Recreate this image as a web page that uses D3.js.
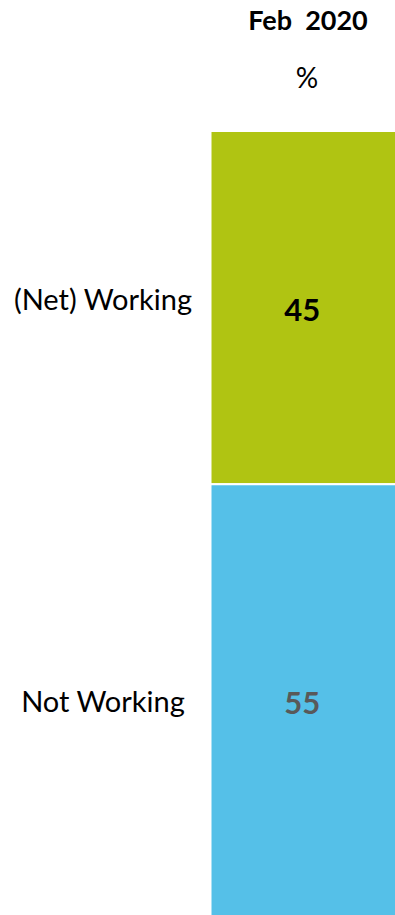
<!DOCTYPE html>
<html>
<head>
<meta charset="utf-8">
<script src="https://cdn.jsdelivr.net/npm/d3@7"></script>
<style>
  body { margin: 0; background: #fff; }
  text { font-family: Lato, "Open Sans", sans-serif; }
</style>
</head>
<body>
<svg id="chart" width="395" height="915"></svg>
<script>
var categories = ["(Net) Working", "Not Working"];
var values = [45, 55];
var colors = ["#b0c412", "#55c0e8"];
var valueColors = ["#000000", "#595959"];
var columnLabel = "Feb  2020";
var unitLabel = "%";

var width = 395, height = 915;
var svg = d3.select("#chart");

var x = d3.scaleBand().domain([columnLabel]).range([210.5, 396]).padding(0);
var y = d3.scaleLinear().domain([0, 100]).range([131, 916]);

// stack the segments
var stack = [];
var acc = 0;
values.forEach(function(v, i) {
	stack.push({ name: categories[i], value: v, y0: acc, y1: acc + v, color: colors[i], tcolor: valueColors[i] });
	acc += v;
});

var seg = svg.selectAll("g.seg").data(stack).enter().append("g").attr("class", "seg");

seg.append("rect")
	.attr("x", x(columnLabel))
	.attr("width", x.bandwidth())
	.attr("y", function(d) { return y(d.y0); })
	.attr("height", function(d) { return y(d.y1) - y(d.y0); })
	.attr("fill", function(d) { return d.color; })
	.attr("stroke", "#fff")
	.attr("stroke-width", 2);

seg.append("text")
	.attr("x", x(columnLabel) + x.bandwidth() / 2 - 1)
	.attr("y", function(d, i) { return (y(d.y0) + y(d.y1)) / 2 + (i === 0 ? 5 : 6); })
	.attr("text-anchor", "middle")
	.attr("dominant-baseline", "middle")
	.attr("font-size", 31)
	.attr("font-weight", "bold")
	.attr("fill", function(d) { return d.tcolor; })
	.text(function(d) { return d.value; });

// category labels on the left
seg.append("text")
	.attr("x", 103)
	.attr("y", function(d, i) { return (y(d.y0) + y(d.y1)) / 2 + (i === 0 ? -5 : 5); })
	.attr("text-anchor", "middle")
	.attr("dominant-baseline", "middle")
	.attr("font-size", 29)
	.attr("fill", "#000")
	.text(function(d) { return d.name; });

// column header
svg.append("text")
	.attr("x", 308)
	.attr("y", 30)
	.attr("text-anchor", "middle")
	.attr("font-size", 27)
	.attr("font-weight", "bold")
	.attr("xml:space", "preserve")
	.style("white-space", "pre")
	.text(columnLabel);

svg.append("text")
	.attr("x", 307)
	.attr("y", 88)
	.attr("text-anchor", "middle")
	.attr("font-size", 28)
	.text(unitLabel);
</script>
</body>
</html>
